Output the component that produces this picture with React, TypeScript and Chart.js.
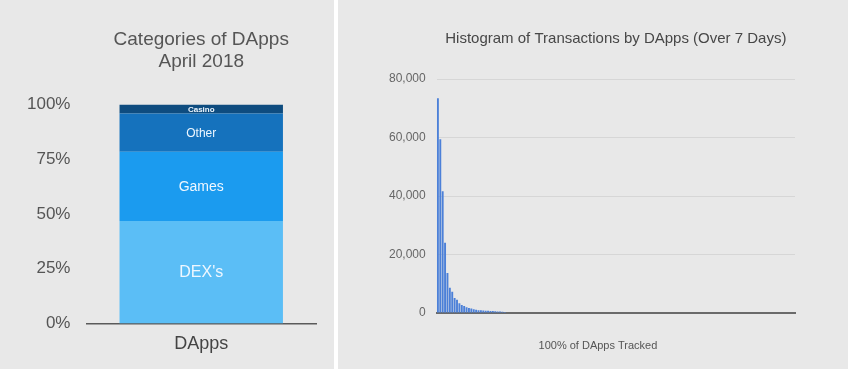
import React, { useEffect, useRef } from "react";
import { Chart, registerables } from "chart.js";

Chart.register(...registerables);

const FONT = "'Liberation Sans', Arial, Helvetica, sans-serif";

// Left chart: categories of DApps (percent of total)
const categoryLabels = ["DApps"];
const segmentNames = ["DEX's", "Games", "Other", "Casino"];
const dexValues = [46.8];
const gamesValues = [31.6];
const otherValues = [17.5];
const casinoValues = [4.1];
const segmentColors = ["#5bbef6", "#1b9bef", "#1572bd", "#0e4c7f"];
const segmentFontSizes = [16, 14, 12, 8];
const percentTicks = [0, 25, 50, 75, 100];

// Right chart: histogram of transactions by DApps (over 7 days)
const histLabels = [
  "1","2","3","4","5","6","7","8","9","10","11","12","13","14","15","16","17","18","19","20",
  "21","22","23","24","25","26","27","28","29","30","31","32","33","34","35","36","37","38","39","40",
  "41","42","43","44","45","46","47","48","49","50","51","52","53","54","55","56","57","58","59","60",
  "61","62","63","64","65","66","67","68","69","70","71","72","73","74","75","76","77","78","79","80",
  "81","82","83","84","85","86","87","88","89","90","91","92","93","94","95","96","97","98","99","100",
  "101","102","103","104","105","106","107","108","109","110","111","112","113","114","115","116","117","118","119","120",
  "121","122","123","124","125","126","127","128","129","130","131","132","133","134","135","136","137","138","139","140",
  "141","142","143","144","145","146","147","148","149","150"
];
const transactions = [
  73400, 59400, 41600, 24000, 13700, 8600, 7300, 5100, 4500, 3300,
  2700, 2400, 2000, 1700, 1500, 1300, 1100, 950, 900, 850,
  800, 750, 700, 650, 600, 550, 500, 450, 350, 0,
  0, 0, 0, 0, 0, 0, 0, 0, 0, 0,
  0, 0, 0, 0, 0, 0, 0, 0, 0, 0,
  0, 0, 0, 0, 0, 0, 0, 0, 0, 0,
  0, 0, 0, 0, 0, 0, 0, 0, 0, 0,
  0, 0, 0, 0, 0, 0, 0, 0, 0, 0,
  0, 0, 0, 0, 0, 0, 0, 0, 0, 0,
  0, 0, 0, 0, 0, 0, 0, 0, 0, 0,
  0, 0, 0, 0, 0, 0, 0, 0, 0, 0,
  0, 0, 0, 0, 0, 0, 0, 0, 0, 0,
  0, 0, 0, 0, 0, 0, 0, 0, 0, 0,
  0, 0, 0, 0, 0, 0, 0, 0, 0, 0,
  0, 0, 0, 0, 0, 0, 0, 0, 0, 0
];
const histTicks = [0, 20000, 40000, 60000, 80000];
const histXTitle = "100% of DApps Tracked";

const segmentLabelPlugin = {
  id: "segmentLabels",
  afterDatasetsDraw(chart: any) {
    const ctx = chart.ctx;
    ctx.save();
    ctx.textAlign = "center";
    ctx.textBaseline = "middle";
    ctx.fillStyle = "#eef7ff";
    chart.data.datasets.forEach((ds: any, i: number) => {
      const meta = chart.getDatasetMeta(i);
      const el = meta.data[0];
      if (!el) return;
      const size = segmentFontSizes[i];
      ctx.font = `${i === 3 ? "bold " : ""}${size}px ${FONT}`;
      ctx.fillText(ds.label, el.x, (el.y + el.base) / 2 + 0.5);
    });
    ctx.restore();
  },
};

const histTitlePlugin = {
  id: "histXTitle",
  afterDraw(chart: any) {
    const { ctx, chartArea } = chart;
    ctx.save();
    ctx.textAlign = "center";
    ctx.textBaseline = "middle";
    ctx.fillStyle = "#555555";
    ctx.font = `11px ${FONT}`;
    ctx.fillText(histXTitle, chartArea.left + chartArea.width * 0.45, chartArea.bottom + 33);
    ctx.restore();
  },
};

function LeftChart() {
  const ref = useRef<HTMLCanvasElement>(null);
  useEffect(() => {
    const values = [dexValues, gamesValues, otherValues, casinoValues];
    const chart = new Chart(ref.current!, {
      type: "bar",
      data: {
        labels: categoryLabels,
        datasets: segmentNames.map((name, i) => ({
          label: name,
          data: values[i],
          backgroundColor: segmentColors[i],
          borderWidth: 0,
          barPercentage: 0.712,
          categoryPercentage: 1,
        })),
      },
      options: {
        animation: false,
        responsive: false,
        layout: { padding: { left: 11, right: 18, top: 0, bottom: 4 } },
        plugins: {
          legend: { display: false },
          tooltip: { enabled: false },
          title: {
            display: true,
            fullSize: false,
            text: ["Categories of DApps", "April 2018"],
            color: "#555555",
            font: { family: FONT, size: 19, weight: "normal", lineHeight: 1.2 },
            padding: { top: 28, bottom: 31 },
          },
        },
        scales: {
          x: {
            stacked: true,
            grid: { display: false, drawTicks: false },
            border: { display: true, color: "#5a5a5a", width: 1.5 },
            ticks: { color: "#444444", font: { family: FONT, size: 18 }, padding: 10 },
          },
          y: {
            stacked: true,
            min: 0,
            max: 100,
            afterBuildTicks: (axis: any) => {
              axis.ticks = percentTicks.map((v) => ({ value: v }));
            },
            grid: { display: false, drawTicks: false },
            border: { display: false },
            ticks: {
              color: "#555555",
              font: { family: FONT, size: 17 },
              padding: 16,
              callback: (v: any) => `${v}%`,
            },
          },
        },
      },
      plugins: [segmentLabelPlugin],
    });
    return () => chart.destroy();
  }, []);
  return <canvas ref={ref} width={334} height={369} style={{ display: "block" }} />;
}

function RightChart() {
  const ref = useRef<HTMLCanvasElement>(null);
  useEffect(() => {
    const chart = new Chart(ref.current!, {
      type: "bar",
      data: {
        labels: histLabels,
        datasets: [
          {
            label: "Transactions",
            data: transactions,
            backgroundColor: "#4c80d8",
            borderWidth: 0,
            barPercentage: 0.8,
            categoryPercentage: 1,
          },
        ],
      },
      options: {
        animation: false,
        responsive: false,
        layout: { padding: { left: 40, right: 53, top: 0, bottom: 56 } },
        plugins: {
          legend: { display: false },
          tooltip: { enabled: false },
          title: {
            display: true,
            fullSize: false,
            text: "Histogram of Transactions by DApps (Over 7 Days)",
            color: "#474747",
            font: { family: FONT, size: 15, weight: "normal", lineHeight: 1.2 },
            padding: { top: 30, bottom: 31 },
          },
        },
        scales: {
          x: {
            grid: { display: false, drawTicks: false },
            border: { display: true, color: "#6a6a6a", width: 2 },
            ticks: { display: false },
          },
          y: {
            min: 0,
            max: 80000,
            afterBuildTicks: (axis: any) => {
              axis.ticks = histTicks.map((v) => ({ value: v }));
            },
            grid: { color: "#d6d6d6", lineWidth: 1, drawTicks: false },
            border: { display: false },
            ticks: {
              color: "#666666",
              font: { family: FONT, size: 12 },
              padding: 11,
              callback: (v: any) => Number(v).toLocaleString("en-US"),
            },
          },
        },
      },
      plugins: [histTitlePlugin],
    });
    return () => chart.destroy();
  }, []);
  return <canvas ref={ref} width={510} height={369} style={{ display: "block" }} />;
}

export default function App() {
  return (
    <div
      style={{
        position: "fixed",
        left: 0,
        top: 0,
        width: 848,
        height: 369,
        background: "#ffffff",
        overflow: "hidden",
      }}
    >
      <div style={{ position: "absolute", left: 0, top: 0, width: 334, height: 369, background: "#e8e8e8" }}>
        <LeftChart />
      </div>
      <div style={{ position: "absolute", left: 338, top: 0, width: 510, height: 369, background: "#e8e8e8" }}>
        <RightChart />
      </div>
    </div>
  );
}
